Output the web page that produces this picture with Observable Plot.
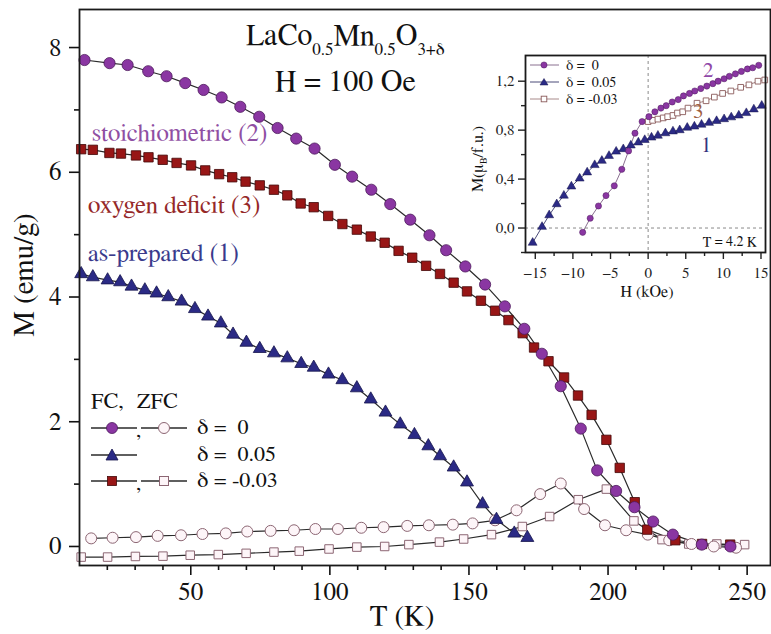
<!DOCTYPE html>
<html><head><meta charset="utf-8">
<script src="https://cdn.jsdelivr.net/npm/d3@7"></script>
<script src="https://cdn.jsdelivr.net/npm/@observablehq/plot@0.6"></script>
<style>
body{margin:0;background:#fff;}
#wrap{position:relative;width:771px;height:634px;color:#111;overflow:hidden;}
#wrap > svg, #wrap > div{position:absolute;}
</style></head><body><div id="wrap"></div>
<script>
// ---- main panel data: M (emu/g) vs T (K), H = 100 Oe ----
const fcT_d0 = [11.8, 20.8, 27.3, 34.7, 41.3, 48.0, 54.6, 61.1, 67.8, 74.6, 81.2, 87.9, 94.5, 101.8, 108.0, 114.9, 121.7, 128.9, 135.8, 141.8, 148.7, 155.8, 162.9, 169.9, 176.2, 183.0, 190.2, 196.1, 202.9, 209.5, 216.2, 223.3, 233.7, 244.0];
const fcM_d0 = [7.80, 7.75, 7.72, 7.62, 7.54, 7.43, 7.32, 7.20, 7.05, 6.89, 6.71, 6.54, 6.38, 6.12, 5.93, 5.72, 5.49, 5.24, 4.99, 4.75, 4.49, 4.20, 3.85, 3.49, 3.09, 2.57, 1.89, 1.22, 0.89, 0.63, 0.40, 0.19, 0.03, 0.00];

const fcT_d05 = [10.6, 14.8, 20.1, 24.6, 28.7, 33.5, 37.7, 41.9, 46.7, 51.5, 56.2, 60.8, 65.2, 70.0, 74.8, 79.9, 84.7, 89.7, 94.2, 99.5, 104.5, 109.7, 114.7, 120.0, 125.3, 130.4, 135.4, 139.6, 144.5, 149.3, 154.9, 159.9, 166.3, 171.0];
const fcM_d05 = [4.37, 4.32, 4.27, 4.24, 4.17, 4.11, 4.06, 4.00, 3.93, 3.81, 3.69, 3.58, 3.40, 3.27, 3.17, 3.10, 3.02, 2.93, 2.87, 2.76, 2.67, 2.54, 2.36, 2.15, 1.96, 1.79, 1.61, 1.45, 1.27, 1.03, 0.68, 0.43, 0.21, 0.14];

const fcT_dm03 = [10.6, 14.8, 20.75, 24.9, 30.3, 34.8, 39.9, 44.9, 50.1, 55.2, 60.2, 64.9, 69.7, 74.8, 79.9, 84.7, 89.5, 94.2, 99.4, 104.5, 109.7, 114.7, 119.7, 124.7, 129.6, 134.6, 139.6, 144.5, 149.3, 154.3, 159.4, 164.2, 169.3, 173.4, 178.6, 184.2, 189.2, 194.1, 199.4, 204.2, 209.6, 214.1, 224.2, 233.8, 243.9];
const fcM_dm03 = [6.37, 6.36, 6.31, 6.30, 6.27, 6.24, 6.20, 6.15, 6.11, 6.03, 5.97, 5.92, 5.85, 5.79, 5.72, 5.63, 5.50, 5.44, 5.30, 5.17, 5.08, 4.97, 4.87, 4.74, 4.63, 4.50, 4.37, 4.23, 4.09, 3.94, 3.78, 3.63, 3.42, 3.19, 2.97, 2.71, 2.42, 2.11, 1.71, 1.26, 0.71, 0.27, 0.10, 0.04, 0.03];

const zfcT_d0 = [14.2, 21.9, 30.3, 38.1, 46.5, 54.2, 62.6, 70.3, 78.7, 87.1, 94.8, 102.9, 111.3, 119.3, 127.8, 135.6, 144.2, 151.3, 159.4, 167.1, 175.6, 183.0, 191.4, 198.9, 206.5, 214.3, 222.0, 230.0, 238.0, 246.0];
const zfcM_d0 = [0.13, 0.14, 0.15, 0.17, 0.18, 0.20, 0.21, 0.24, 0.25, 0.26, 0.28, 0.28, 0.30, 0.31, 0.33, 0.34, 0.35, 0.37, 0.42, 0.58, 0.84, 1.01, 0.60, 0.34, 0.26, 0.19, 0.10, 0.04, 0.00, -0.02];

const zfcT_dm03 = [10.6, 20.1, 30.1, 40.0, 49.8, 59.9, 69.9, 79.9, 89.0, 99.7, 109.7, 119.7, 128.4, 139.4, 148.1, 158.1, 169.2, 179.0, 189.3, 199.4, 209.3, 219.4, 229.0, 239.1, 249.1];
const zfcM_dm03 = [-0.17, -0.17, -0.16, -0.155, -0.14, -0.13, -0.11, -0.09, -0.075, -0.04, -0.01, 0.00, 0.03, 0.07, 0.12, 0.19, 0.32, 0.48, 0.75, 0.92, 0.41, 0.11, 0.04, 0.04, 0.03];

const xMajorTicks = [50, 100, 150, 200, 250];
const xMinorTicks = [20, 30, 40, 60, 70, 80, 90, 110, 120, 130, 140, 160, 170, 180, 190, 210, 220, 230, 240];
const yMajorTicks = [0, 2, 4, 6, 8];
const yMinorTicks = [1, 3, 5, 7];

// ---- inset data: M (muB/f.u.) vs H (kOe), T = 4.2 K ----
const inH_d0 = [-8.7, -7.7, -6.6, -5.6, -4.5, -3.5, -2.6, -1.75, -0.8, 0.1, 0.9, 1.7, 2.4, 3.2, 4.0, 4.7, 5.5, 6.2, 7.0, 7.8, 8.6, 9.3, 10.1, 10.8, 11.6, 12.4, 13.2, 13.9, 14.7];
const inM_d0 = [-0.035, 0.08, 0.18, 0.265, 0.345, 0.48, 0.63, 0.775, 0.87, 0.91, 0.95, 0.98, 1.00, 1.03, 1.05, 1.08, 1.10, 1.12, 1.14, 1.16, 1.18, 1.20, 1.22, 1.24, 1.26, 1.28, 1.30, 1.31, 1.33];

const inH_d05 = [-15.35, -14.1, -13.15, -12.15, -11.2, -10.2, -9.1, -8.1, -7.1, -6.15, -5.2, -4.25, -3.3, -2.3, -1.3, -0.45, 0.45, 1.3, 2.3, 3.3, 4.2, 5.2, 6.15, 7.1, 8.1, 9.1, 10.1, 11.05, 12.05, 13.05, 14.05, 15.1];
const inM_d05 = [-0.12, 0.01, 0.105, 0.195, 0.265, 0.34, 0.405, 0.455, 0.515, 0.55, 0.59, 0.625, 0.645, 0.675, 0.70, 0.72, 0.74, 0.755, 0.775, 0.79, 0.80, 0.82, 0.83, 0.845, 0.86, 0.875, 0.89, 0.905, 0.92, 0.94, 0.97, 1.00];

const inH_dm03 = [0.0, 0.6, 1.3, 2.0, 2.6, 3.3, 3.9, 4.6, 5.3, 6.5, 7.7, 8.8, 9.9, 11.0, 12.3, 13.4, 14.6, 15.5];
const inM_dm03 = [0.87, 0.88, 0.89, 0.90, 0.91, 0.92, 0.94, 0.95, 0.98, 1.02, 1.04, 1.07, 1.10, 1.12, 1.15, 1.17, 1.20, 1.21];

const inXMajor = [-15, -10, -5, 0, 5, 10, 15];
const inXMinor = [-12.5, -7.5, -2.5, 2.5, 7.5, 12.5];
const inYMajor = [0, 0.4, 0.8, 1.2];
const inYMinor = [-0.2, 0.2, 0.6, 1.0];

// colours
const cPurple = "#8a36a2", cPurpleEdge = "#4d1a5c";
const cRed = "#981616", cRedEdge = "#420808";
const cBlue = "#2b2a85", cBlueEdge = "#16154d";
const cOpenFill = "#fdf5f8", cOpenEdge = "#8c6673";
const cLine = "#2a2a2a";
const serif = "FreeSerif, 'Noto Serif', 'DejaVu Serif', serif";

const zip = (xs, ys) => xs.map((x, i) => ({x, y: ys[i]}));
const dFC0 = zip(fcT_d0, fcM_d0), dFC05 = zip(fcT_d05, fcM_d05), dFCm = zip(fcT_dm03, fcM_dm03);
const dZ0 = zip(zfcT_d0, zfcM_d0), dZm = zip(zfcT_dm03, zfcM_dm03);
const iP = zip(inH_d0, inM_d0), iB = zip(inH_d05, inM_d05), iS = zip(inH_dm03, inM_dm03);

const blank = () => "";

const main = Plot.plot({
  width: 771, height: 634,
  marginLeft: 79, marginRight: 1, marginTop: 9, marginBottom: 69,
  x: {domain: [10, 258.4]},
  y: {domain: [-0.305, 8.61]},
  style: {fontFamily: serif, fontSize: "25px", color: "#111", background: "transparent"},
  marks: [
    Plot.axisX({ticks: xMinorTicks, tickSize: 5, tickFormat: blank, label: null, strokeWidth: 1.6}),
    Plot.axisX({ticks: xMajorTicks, tickSize: 10, tickPadding: 7, label: null, strokeWidth: 1.6}),
    Plot.axisY({ticks: yMinorTicks, tickSize: 5, tickFormat: blank, label: null, strokeWidth: 1.6}),
    Plot.axisY({ticks: yMajorTicks, tickSize: 10, tickPadding: 8, label: null, strokeWidth: 1.6}),
    Plot.line(dZm, {x: "x", y: "y", stroke: cLine, strokeWidth: 1.2}),
    Plot.line(dZ0, {x: "x", y: "y", stroke: cLine, strokeWidth: 1.2}),
    Plot.line(dFC05, {x: "x", y: "y", stroke: cLine, strokeWidth: 1.2}),
    Plot.line(dFCm, {x: "x", y: "y", stroke: cLine, strokeWidth: 1.2}),
    Plot.line(dFC0, {x: "x", y: "y", stroke: cLine, strokeWidth: 1.2}),
    Plot.dot(dZm, {x: "x", y: "y", symbol: "square", r: 4.8, fill: cOpenFill, stroke: cOpenEdge, strokeWidth: 1}),
    Plot.dot(dZ0, {x: "x", y: "y", symbol: "circle", r: 5.5, fill: cOpenFill, stroke: cOpenEdge, strokeWidth: 1}),
    Plot.dot(dFC05, {x: "x", y: "y", symbol: "triangle", r: 4.8, fill: cBlue, stroke: cBlueEdge, strokeWidth: 0.8}),
    Plot.dot(dFCm, {x: "x", y: "y", symbol: "square", r: 5.3, fill: cRed, stroke: cRedEdge, strokeWidth: 0.8}),
    Plot.dot(dFC0, {x: "x", y: "y", symbol: "circle", r: 5.6, fill: cPurple, stroke: cPurpleEdge, strokeWidth: 0.8}),
    Plot.frame({stroke: "#1a1a1a", strokeWidth: 1.8})
  ]
});
main.style.left = "0px"; main.style.top = "0px";

const inset = Plot.plot({
  width: 301, height: 265,
  marginLeft: 55, marginRight: 6, marginTop: 10, marginBottom: 58,
  x: {domain: [-16.3, 15.6]},
  y: {domain: [-0.2, 1.41]},
  style: {fontFamily: serif, fontSize: "15px", color: "#222", background: "transparent"},
  marks: [
    Plot.ruleY([0], {stroke: "#8a8a8a", strokeDasharray: "3,3", strokeWidth: 1}),
    Plot.ruleX([0], {stroke: "#8a8a8a", strokeDasharray: "3,3", strokeWidth: 1}),
    Plot.axisX({ticks: inXMinor, tickSize: 4, tickFormat: blank, label: null, strokeWidth: 1.4}),
    Plot.axisX({ticks: inXMajor, tickSize: 7, tickPadding: 8, label: null, strokeWidth: 1.4}),
    Plot.axisY({ticks: inYMinor, tickSize: 4, tickFormat: blank, label: null, strokeWidth: 1.4}),
    Plot.axisY({ticks: inYMajor, tickSize: 7, tickPadding: 4, tickFormat: d => d.toFixed(1).replace(".", ","), label: null, strokeWidth: 1.4}),
    Plot.line(iB, {x: "x", y: "y", stroke: "#4a4a78", strokeWidth: 1}),
    Plot.line(iS, {x: "x", y: "y", stroke: "#a88a8a", strokeWidth: 1}),
    Plot.line(iP, {x: "x", y: "y", stroke: "#8a7090", strokeWidth: 1}),
    Plot.dot(iB, {x: "x", y: "y", symbol: "triangle", r: 3.3, fill: cBlue, stroke: cBlueEdge, strokeWidth: 0.5}),
    Plot.dot(iS, {x: "x", y: "y", symbol: "square", r: 3.2, fill: "#ffffff", stroke: "#8a5a5a", strokeWidth: 0.9}),
    Plot.dot(iP, {x: "x", y: "y", symbol: "circle", r: 3.1, fill: cPurple, stroke: cPurpleEdge, strokeWidth: 0.5}),
    Plot.frame({stroke: "#1a1a1a", strokeWidth: 1.8})
  ]
});
inset.style.left = "470px"; inset.style.top = "45px";

const wrap = document.getElementById("wrap");
wrap.appendChild(main);
wrap.appendChild(inset);

// ---- text and legends overlay ----
const ns = "http://www.w3.org/2000/svg";
const ov = document.createElementNS(ns, "svg");
ov.setAttribute("width", 771); ov.setAttribute("height", 634);
ov.style.left = "0px"; ov.style.top = "0px";
ov.style.fontFamily = serif;
ov.innerHTML = `
<g fill="#111">
  <text x="246" y="45" font-size="30">LaCo<tspan font-size="17" dy="10">0.5</tspan><tspan dy="-10">Mn</tspan><tspan font-size="17" dy="10">0.5</tspan><tspan dy="-10">O</tspan><tspan font-size="17" dy="10">3+δ</tspan></text>
  <text x="275" y="91" font-size="30">H = 100 Oe</text>
  <text x="92" y="141" font-size="25" fill="#8f4fa3">stoichiometric (2)</text>
  <text x="88" y="213" font-size="25" fill="#952828">oxygen deficit (3)</text>
  <text x="88" y="261" font-size="25" fill="#3a3a8c">as-prepared (1)</text>
  <text transform="translate(33,275) rotate(-90)" text-anchor="middle" font-size="29">M (emu/g)</text>
  <text x="402" y="625" text-anchor="middle" font-size="29">T (K)</text>

  <text x="91" y="408" font-size="22">FC,</text>
  <text x="137" y="408" font-size="22">ZFC</text>
  <g stroke="${cLine}" stroke-width="1.5">
    <line x1="91" y1="428" x2="137" y2="428"/><line x1="141" y1="428" x2="187" y2="428"/>
    <line x1="91" y1="455" x2="137" y2="455"/>
    <line x1="91" y1="481" x2="137" y2="481"/><line x1="141" y1="481" x2="187" y2="481"/>
  </g>
  <circle cx="112" cy="428" r="5.5" fill="${cPurple}" stroke="${cPurpleEdge}" stroke-width="0.8"/>
  <circle cx="164" cy="428" r="5.5" fill="${cOpenFill}" stroke="${cOpenEdge}"/>
  <path d="M112,449 L118,460 L106,460 Z" fill="${cBlue}" stroke="${cBlueEdge}" stroke-width="0.8"/>
  <rect x="107.5" y="476.5" width="9" height="9" fill="${cRed}" stroke="${cRedEdge}" stroke-width="0.8"/>
  <rect x="159.5" y="476.5" width="9" height="9" fill="${cOpenFill}" stroke="${cOpenEdge}"/>
  <text x="136" y="437" font-size="21">,</text>
  <text x="136" y="490" font-size="21">,</text>
  <text x="197" y="434" font-size="22" style="white-space:pre">δ =  0</text>
  <text x="197" y="461" font-size="22" style="white-space:pre">δ =  0.05</text>
  <text x="197" y="487" font-size="22" style="white-space:pre">δ = -0.03</text>

  <g stroke-width="1">
    <line x1="530" y1="65" x2="559" y2="65" stroke="#8a7090"/>
    <line x1="530" y1="82" x2="559" y2="82" stroke="#4a4a78"/>
    <line x1="530" y1="99" x2="559" y2="99" stroke="#a88a8a"/>
  </g>
  <circle cx="544" cy="65" r="3.1" fill="${cPurple}" stroke="${cPurpleEdge}" stroke-width="0.5"/>
  <path d="M544,78.5 L548,85 L540,85 Z" fill="${cBlue}" stroke="${cBlueEdge}" stroke-width="0.5"/>
  <rect x="541.2" y="96.2" width="5.6" height="5.6" fill="#fff" stroke="#8a5a5a" stroke-width="0.9"/>
  <text x="566" y="70" font-size="14" style="white-space:pre">δ =  0</text>
  <text x="566" y="87" font-size="14" style="white-space:pre">δ =  0.05</text>
  <text x="566" y="104" font-size="14" style="white-space:pre">δ = -0.03</text>
  <text x="703" y="77" font-size="21" fill="#9048a8">2</text>
  <text x="693" y="118" font-size="21" fill="#a0603f">3</text>
  <text x="701" y="152" font-size="21" fill="#34347e">1</text>
  <text x="757" y="246" font-size="14" text-anchor="end">T = 4.2 K</text>
  <text x="647" y="297" font-size="16" text-anchor="middle">H (kOe)</text>
  <text transform="translate(483,159) rotate(-90)" text-anchor="middle" font-size="16">M(μ<tspan font-size="10" dy="4">B</tspan><tspan dy="-4">/f.u.)</tspan></text>
</g>`;
wrap.appendChild(ov);
</script></body></html>
